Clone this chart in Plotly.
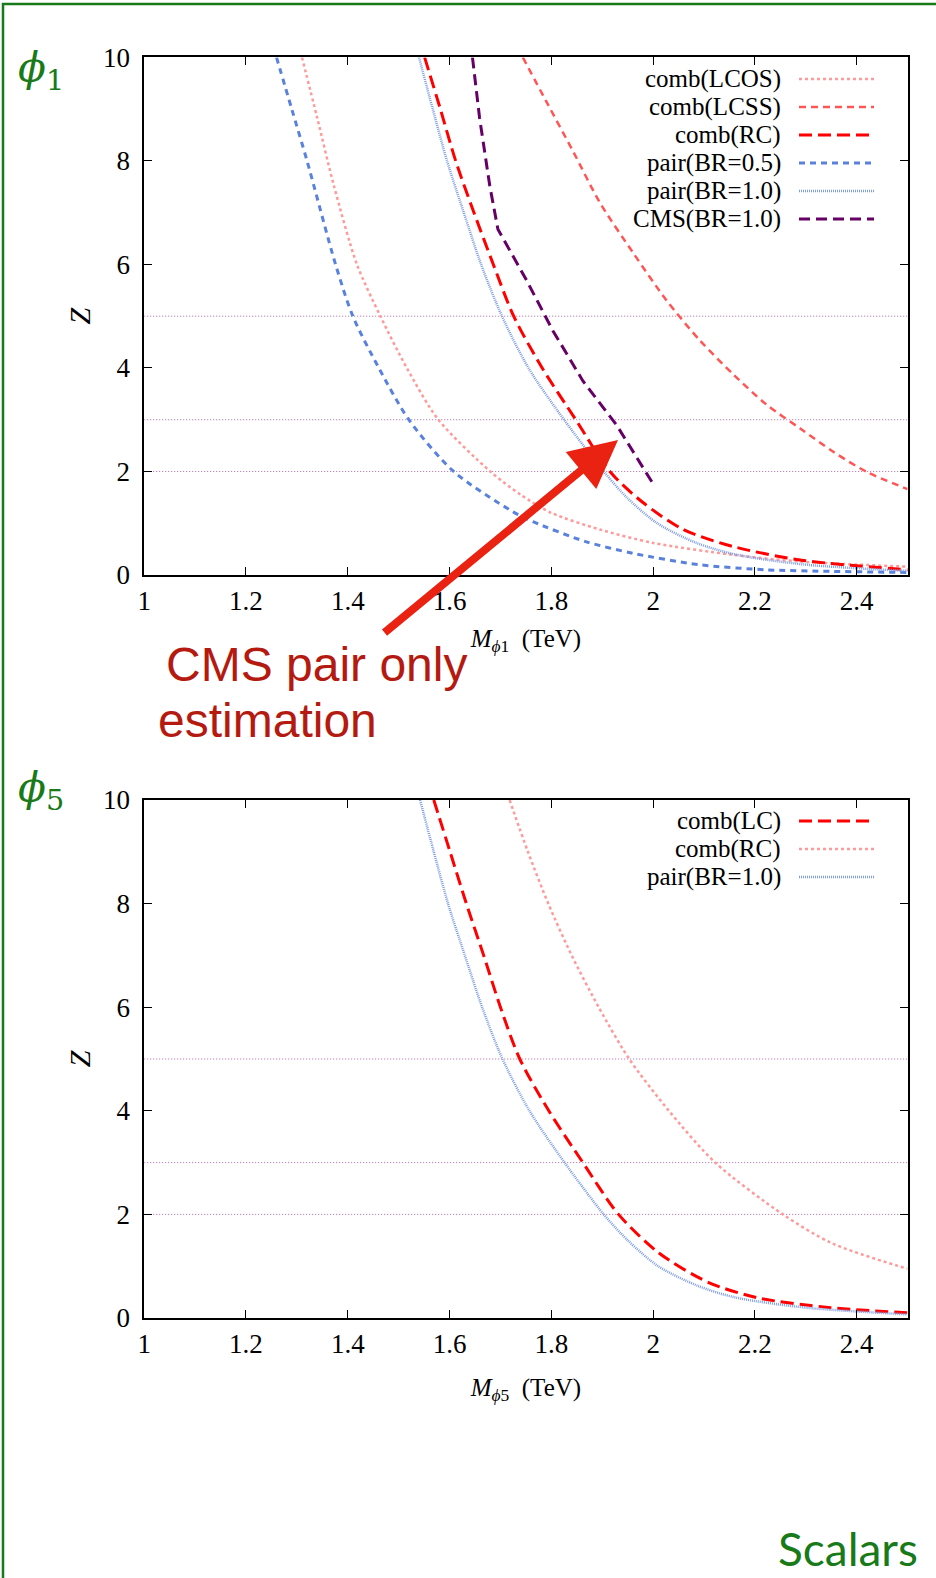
import plotly.graph_objects as go
from plotly.subplots import make_subplots

# top panel (phi_1) curves
lcos_x = [1.31, 1.34, 1.3725, 1.418, 1.464, 1.516, 1.578, 1.68, 1.74, 1.8, 1.895, 2.0, 2.157, 2.289, 2.5]
lcos_y = [10, 8.83, 7.53, 6.0, 5.0, 4.0, 3.0, 2.0, 1.55, 1.2, 0.88, 0.62, 0.39, 0.26, 0.16]

lcss_x = [1.744, 1.79, 1.843, 1.895, 1.961, 2.026, 2.092, 2.157, 2.223, 2.289, 2.354, 2.42, 2.5]
lcss_y = [10, 9.15, 8.18, 7.2, 6.22, 5.31, 4.53, 3.88, 3.29, 2.83, 2.38, 1.99, 1.66]

rc_x = [1.551, 1.582, 1.612, 1.648, 1.686, 1.726, 1.782, 1.848, 1.915, 1.98, 2.059, 2.157, 2.289, 2.5]
rc_y = [10, 9, 8, 7, 6, 5, 4, 3, 2, 1.4, 0.88, 0.55, 0.29, 0.1]

br05_x = [1.26, 1.29, 1.32, 1.376, 1.41, 1.461, 1.52, 1.608, 1.725, 1.764, 1.866, 1.96, 2.09, 2.223, 2.35, 2.5]
br05_y = [10, 9, 8, 6, 5, 4, 3, 2, 1.22, 1.03, 0.65, 0.42, 0.2, 0.1, 0.07, 0.05]

br10_x = [1.540, 1.567, 1.595, 1.628, 1.662, 1.703, 1.755, 1.825, 1.903, 1.948, 2.008, 2.085, 2.16, 2.30, 2.5]
br10_y = [10, 9, 8, 7, 6, 5, 4, 3, 2, 1.5, 1.0, 0.62, 0.40, 0.2, 0.08]

cms_x = [1.645, 1.659, 1.679, 1.695, 1.751, 1.803, 1.862, 1.928, 2.0]
cms_y = [10, 8.83, 7.52, 6.68, 5.70, 4.72, 3.75, 2.90, 1.76]

# bottom panel (phi_5) curves
lc5_x = [1.569, 1.601, 1.633, 1.667, 1.700, 1.738, 1.795, 1.862, 1.932, 2.012, 2.108, 2.205, 2.349, 2.5]
lc5_y = [10, 9, 8, 7, 6, 5, 4, 3, 2, 1.25, 0.69, 0.39, 0.2, 0.1]

rc5_x = [1.718, 1.754, 1.794, 1.840, 1.893, 1.953, 2.031, 2.122, 2.255, 2.352, 2.5]
rc5_y = [10, 9, 8, 7, 6, 5, 4, 3, 2, 1.44, 0.95]

br5_x = [1.542, 1.569, 1.597, 1.630, 1.664, 1.704, 1.757, 1.826, 1.903, 1.950, 2.010, 2.088, 2.16, 2.30, 2.5]
br5_y = [10, 9, 8, 7, 6, 5, 4, 3, 2, 1.5, 1.0, 0.62, 0.40, 0.2, 0.07]

# significance reference levels
ref_levels = [2, 3, 5]

x_ticks = [1, 1.2, 1.4, 1.6, 1.8, 2, 2.2, 2.4]
y_ticks = [0, 2, 4, 6, 8, 10]

W, H = 936, 1578
SERIF = "Liberation Serif"
GREEN = "#187a18"

# line styles
st = {
    "lcos": dict(color="#ff9a9a", width=2.5, dash="3px,3px"),
    "lcss": dict(color="#ff5555", width=2.5, dash="7px,5px"),
    "rc": dict(color="#ff0000", width=3, dash="13px,6px"),
    "br05": dict(color="#5a82dc", width=3, dash="6px,5px"),
    "br10": dict(color="#7c9ce4", width=2.5, dash="1px,1px"),
    "cms": dict(color="#660066", width=3, dash="11px,6px"),
    "ref": dict(color="#a868a8", width=1, dash="1px,2px"),
}

fig = make_subplots(rows=2, cols=1)

def px_x(p):
    return p / W

def px_y(p):
    return 1 - p / H

# reference lines first so curves sit on top
for row in (1, 2):
    for lv in ref_levels:
        fig.add_trace(go.Scatter(x=[1, 2.5], y=[lv, lv], mode="lines", line=st["ref"],
                                 hoverinfo="skip", showlegend=False), row=row, col=1)

top_curves = [
    (lcos_x, lcos_y, "lcos", "spline"),
    (lcss_x, lcss_y, "lcss", "spline"),
    (rc_x, rc_y, "rc", "spline"),
    (br05_x, br05_y, "br05", "spline"),
    (br10_x, br10_y, "br10", "spline"),
    (cms_x, cms_y, "cms", "linear"),
]
for xs, ys, key, shape in top_curves:
    fig.add_trace(go.Scatter(x=xs, y=ys, mode="lines", line=dict(st[key], shape=shape, smoothing=0.8),
                             showlegend=False), row=1, col=1)

bot_curves = [
    (lc5_x, lc5_y, "rc"),
    (rc5_x, rc5_y, "lcos"),
    (br5_x, br5_y, "br10"),
]
for xs, ys, key in bot_curves:
    fig.add_trace(go.Scatter(x=xs, y=ys, mode="lines", line=dict(st[key], shape="spline", smoothing=0.8),
                             showlegend=False), row=2, col=1)

axis_common = dict(
    showline=True, linecolor="black", linewidth=1.5, mirror="ticks",
    ticks="inside", ticklen=8, tickcolor="black", showgrid=False, zeroline=False,
    automargin=False,
    tickfont=dict(family=SERIF, size=27, color="black"),
)

x_dom = [px_x(144.2), px_x(907.6)]
fig.update_xaxes(axis_common, range=[1, 2.5], tickvals=x_ticks, ticklabelstandoff=1, domain=x_dom)
fig.update_yaxes(axis_common, range=[0, 10], tickvals=y_ticks, ticklabelstandoff=7)

title_font = dict(family=SERIF, size=25, color="black")
z_font = dict(family=SERIF, size=30, color="black")
fig.update_layout(
    xaxis=dict(title=dict(text="<i>M</i><sub><i>ϕ</i>1</sub>  (TeV)", standoff=14, font=title_font)),
    xaxis2=dict(title=dict(text="<i>M</i><sub><i>ϕ</i>5</sub>  (TeV)", standoff=20, font=title_font)),
    yaxis=dict(domain=[px_y(575), px_y(57.4)], title=dict(text="<i>Z</i>", standoff=4, font=z_font)),
    yaxis2=dict(domain=[px_y(1318), px_y(800)], title=dict(text="<i>Z</i>", standoff=4, font=z_font)),
)

# legends drawn gnuplot style: text right aligned, sample line to the right
legend_top = [("comb(LCOS)", "lcos", 79), ("comb(LCSS)", "lcss", 107), ("comb(RC)", "rc", 135),
              ("pair(BR=0.5)", "br05", 163), ("pair(BR=1.0)", "br10", 191), ("CMS(BR=1.0)", "cms", 219)]
legend_bot = [("comb(LC)", "rc", 821), ("comb(RC)", "lcos", 849), ("pair(BR=1.0)", "br10", 877)]

annos = []
shapes = []
for label, key, yrow in legend_top + legend_bot:
    annos.append(dict(x=px_x(782.7), y=px_y(yrow), xref="paper", yref="paper", text=label,
                      showarrow=False, xanchor="right", yanchor="middle",
                      font=dict(family=SERIF, size=25, color="black")))
    shapes.append(dict(type="line", xref="paper", yref="paper", x0=px_x(799), x1=px_x(874),
                       y0=px_y(yrow), y1=px_y(yrow), line=st[key]))

# green frame
shapes.append(dict(type="rect", xref="paper", yref="paper", x0=px_x(3), x1=1.05, y0=-0.05, y1=px_y(4),
                   line=dict(color=GREEN, width=2.5)))

# panel labels
annos.append(dict(x=px_x(16), y=px_y(70), xref="paper", yref="paper", text="<i>ϕ</i><sub>1</sub>",
                  showarrow=False, xanchor="left", yanchor="middle",
                  font=dict(family="DejaVu Serif", size=41, color=GREEN)))
annos.append(dict(x=px_x(16), y=px_y(790), xref="paper", yref="paper", text="<i>ϕ</i><sub>5</sub>",
                  showarrow=False, xanchor="left", yanchor="middle",
                  font=dict(family="DejaVu Serif", size=41, color=GREEN)))
annos.append(dict(x=px_x(920), y=px_y(1548), xref="paper", yref="paper", text="Scalars",
                  showarrow=False, xanchor="right", yanchor="middle",
                  font=dict(family="Lato", size=46, color=GREEN)))

# CMS note and arrow
annos.append(dict(x=px_x(164), y=px_y(665), xref="paper", yref="paper", text="CMS pair only",
                  showarrow=False, xanchor="left", yanchor="middle",
                  font=dict(family="Liberation Sans", size=48, color="#b51a10")))
annos.append(dict(x=px_x(156), y=px_y(721), xref="paper", yref="paper", text="estimation",
                  showarrow=False, xanchor="left", yanchor="middle",
                  font=dict(family="Liberation Sans", size=48, color="#b51a10")))
annos.append(dict(x=1.931, y=2.61, xref="x", yref="y", text="", showarrow=True,
                  ax=-235, ay=194, arrowhead=2, arrowsize=1.2, arrowwidth=8, arrowcolor="#ea2212"))

fig.update_layout(
    margin=dict(l=0, r=0, t=0, b=0),
    paper_bgcolor="white", plot_bgcolor="white",
    annotations=annos, shapes=shapes, showlegend=False,
)

# size comes from the div; pin it to the page corner so the body margin adds nothing
fig.write_html("out.html", config={"displayModeBar": False},
               default_width="936px; position:absolute; left:0px; top:0px",
               default_height="1578px")
